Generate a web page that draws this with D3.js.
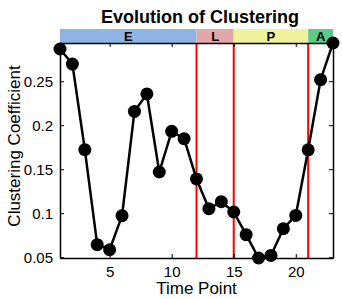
<!DOCTYPE html>
<html>
<head>
<meta charset="utf-8">
<script src="https://cdn.jsdelivr.net/npm/d3@7"></script>
<style>
body { margin: 0; background: #fff; }
text { font-family: "Liberation Sans", Arial, sans-serif; }
</style>
</head>
<body>
<div id="chart"></div>
<script>
// data
var timePoints = d3.range(1, 24);
var clustering = [0.2866, 0.2695, 0.1722, 0.0642, 0.0585, 0.0972, 0.2157, 0.2355,
    0.1468, 0.193, 0.1847, 0.1389, 0.1051, 0.1131, 0.1014, 0.0756, 0.0491, 0.052,
    0.0824, 0.0975, 0.172, 0.2517, 0.2934];
var stageNames = ["E", "L", "P", "A"];
var stageStart = [1, 12, 15, 21];
var stageEnd = [12, 15, 21, 23];
var stageColors = ["#8db4e2", "#e0a8a8", "#eff29b", "#5ccb8a"];
var boundaries = [12, 15, 21];
var xTicks = [5, 10, 15, 20];
var yTicks = [0.05, 0.1, 0.15, 0.2, 0.25];

var svgWidth = 342, svgHeight = 299;
var margin = {top: 43, right: 9, bottom: 41, left: 60};
var width = svgWidth - margin.left - margin.right;
var height = svgHeight - margin.top - margin.bottom;

var svg = d3.select("#chart").append("svg")
    .attr("width", svgWidth)
    .attr("height", svgHeight);

var g = svg.append("g")
    .attr("transform", `translate(${margin.left}, ${margin.top})`);

var x = d3.scaleLinear().domain([1, 23]).range([0, width]);
var y = d3.scaleLinear().domain(d3.extent(clustering)).range([height, 0]);

// stage bar above the plot
g.selectAll(".stage")
    .data(stageNames)
    .enter()
    .append("rect")
    .attr("x", (d, i) => x(stageStart[i]))
    .attr("y", -14)
    .attr("width", (d, i) => x(stageEnd[i]) - x(stageStart[i]))
    .attr("height", 14)
    .attr("fill", (d, i) => stageColors[i]);

g.selectAll(".stageLabel")
    .data(stageNames)
    .enter()
    .append("text")
    .attr("x", (d, i) => (x(stageStart[i]) + x(stageEnd[i])) / 2)
    .attr("y", -2)
    .attr("text-anchor", "middle")
    .style("font-size", "13px")
    .style("font-weight", "bold")
    .text(d => d);

// red stage boundaries
g.selectAll(".boundary")
    .data(boundaries)
    .enter()
    .append("line")
    .attr("x1", d => x(d)).attr("x2", d => x(d))
    .attr("y1", 0).attr("y2", height)
    .attr("stroke", "#ff0000")
    .attr("stroke-width", 2);

// axes, ticks pointing in, MATLAB style box
var bottomAxis = d3.axisBottom(x).tickValues(xTicks).tickSizeInner(-4).tickSizeOuter(0).tickPadding(8);
var leftAxis = d3.axisLeft(y).tickValues(yTicks).tickFormat(d3.format("")).tickSizeInner(-4).tickSizeOuter(0).tickPadding(7);
var topAxis = d3.axisTop(x).tickValues(xTicks).tickSizeInner(-4).tickSizeOuter(0).tickFormat("");
var rightAxis = d3.axisRight(y).tickValues(yTicks).tickSizeInner(-4).tickSizeOuter(0).tickFormat("");

g.append("g").attr("transform", `translate(0, ${height})`).call(bottomAxis);
g.append("g").call(leftAxis);
g.append("g").call(topAxis);
g.append("g").attr("transform", `translate(${width}, 0)`).call(rightAxis);

g.selectAll(".domain").attr("stroke", "#000").attr("stroke-width", 1.5);
g.selectAll(".tick line").attr("stroke", "#000");
g.selectAll(".tick text")
    .style("font-size", "15px")
    .attr("fill", "#000");

// line + markers
var line = d3.line()
    .x((d, i) => x(timePoints[i]))
    .y(d => y(d));

g.append("path")
    .datum(clustering)
    .attr("d", line)
    .attr("fill", "none")
    .attr("stroke", "#000")
    .attr("stroke-width", 2.5);

g.selectAll(".dot")
    .data(clustering)
    .enter()
    .append("circle")
    .attr("cx", (d, i) => x(timePoints[i]))
    .attr("cy", d => y(d))
    .attr("r", 6.5)
    .attr("fill", "#000");

// titles
svg.append("text")
    .attr("x", 200)
    .attr("y", 23)
    .attr("text-anchor", "middle")
    .style("font-size", "18px")
    .style("font-weight", "bold")
    .text("Evolution of Clustering");

svg.append("text")
    .attr("x", margin.left + width / 2)
    .attr("y", 294)
    .attr("text-anchor", "middle")
    .style("font-size", "17px")
    .text("Time Point");

svg.append("text")
    .attr("transform", "rotate(-90)")
    .attr("x", -146)
    .attr("y", 20)
    .attr("text-anchor", "middle")
    .style("font-size", "17px")
    .text("Clustering Coefficient");
</script>
</body>
</html>
